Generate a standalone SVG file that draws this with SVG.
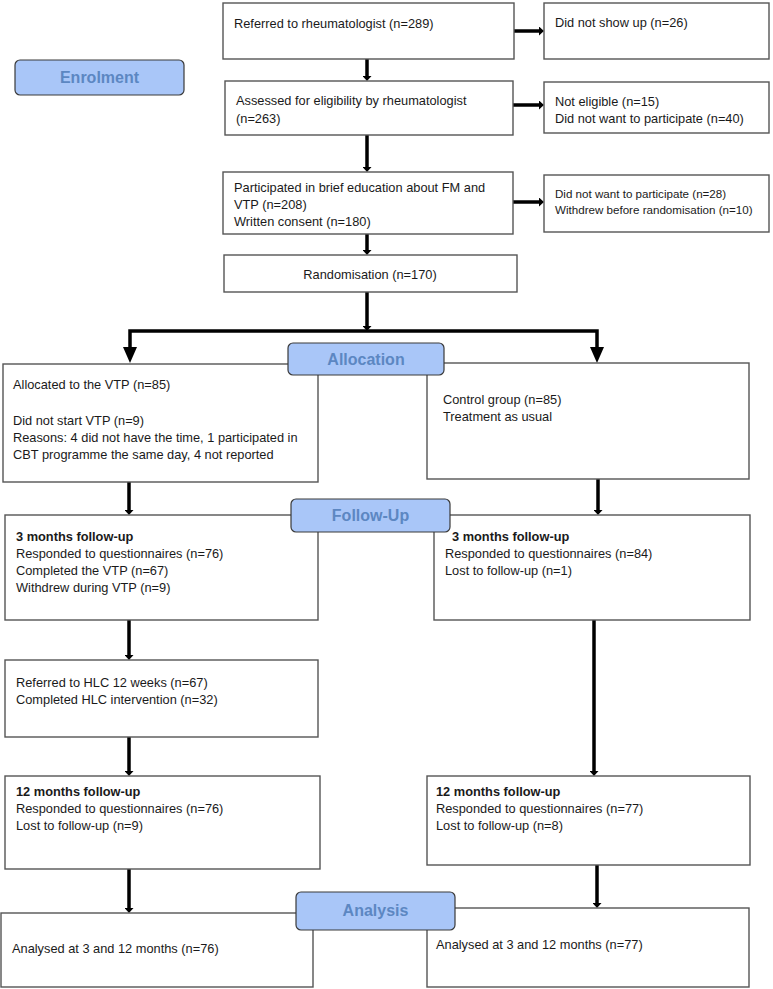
<svg xmlns="http://www.w3.org/2000/svg" width="773" height="989" viewBox="0 0 773 989">
<defs>
<style>
.box{fill:#fff;stroke:#555;stroke-width:1.4}
.pill{fill:#a9c6f8;stroke:#3a3a3a;stroke-width:1.2}
.t{font-family:"Liberation Sans",Arial,sans-serif;font-size:12.8px;fill:#1a1a1a}
.s{font-size:11.6px}
.b{font-weight:bold}
.pt{font-family:"Liberation Sans",Arial,sans-serif;font-size:16px;font-weight:bold;fill:#5c87c2;text-anchor:middle}
.c{fill:none;stroke:#000;stroke-width:3.5}
</style>
<marker id="sm" markerUnits="userSpaceOnUse" markerWidth="6" markerHeight="9" refX="0" refY="4.5" orient="auto">
<path d="M0,0 L5,4.5 L0,9 z" fill="#000"/>
</marker>
<marker id="big" markerUnits="userSpaceOnUse" markerWidth="17" markerHeight="14" refX="0" refY="7" orient="auto">
<path d="M0,0 L16,7 L0,14 z" fill="#000"/>
</marker>
</defs>
<rect width="773" height="989" fill="#fff"/>

<g id="connectors">
<path class="c" d="M367,59 V76" marker-end="url(#sm)"/>
<path class="c" d="M514,31 H539" marker-end="url(#sm)"/>
<path class="c" d="M367,135 V167" marker-end="url(#sm)"/>
<path class="c" d="M513,105 H539" marker-end="url(#sm)"/>
<path class="c" d="M367,234 V250" marker-end="url(#sm)"/>
<path class="c" d="M513,202 H539" marker-end="url(#sm)"/>
<path class="c" d="M367,292 V326" marker-end="url(#sm)"/>
<path class="c" d="M367,331 H130 V347" marker-end="url(#big)"/>
<path class="c" d="M367,331 H597 V347" marker-end="url(#big)"/>
<path class="c" d="M129,482 V510" marker-end="url(#sm)"/>
<path class="c" d="M598,479 V510" marker-end="url(#sm)"/>
<path class="c" d="M129,620 V655" marker-end="url(#sm)"/>
<path class="c" d="M129,737 V771" marker-end="url(#sm)"/>
<path class="c" d="M594,620 V771" marker-end="url(#sm)"/>
<path class="c" d="M129,869 V908" marker-end="url(#sm)"/>
<path class="c" d="M597,865 V903" marker-end="url(#sm)"/>
</g>

<g id="referred">
<rect class="box" x="223" y="3" width="291" height="56"/>
<text class="t" x="234" y="28">Referred to rheumatologist (n=289)</text>
</g>
<g id="noshow">
<rect class="box" x="544" y="3" width="225" height="56"/>
<text class="t" x="555" y="27">Did not show up (n=26)</text>
</g>
<g id="assessed">
<rect class="box" x="225" y="81" width="288" height="54"/>
<text class="t" x="236" y="105">Assessed for eligibility by rheumatologist</text>
<text class="t" x="236" y="123">(n=263)</text>
</g>
<g id="noteligible">
<rect class="box" x="544" y="82" width="225" height="51"/>
<text class="t" x="555" y="106">Not eligible (n=15)</text>
<text class="t" x="555" y="123">Did not want to participate (n=40)</text>
</g>
<g id="participated">
<rect class="box" x="223" y="172" width="290" height="62"/>
<text class="t" x="234" y="192">Participated in brief education about FM and</text>
<text class="t" x="234" y="209">VTP (n=208)</text>
<text class="t" x="234" y="226">Written consent (n=180)</text>
</g>
<g id="didnotwant">
<rect class="box" x="544" y="175" width="225" height="57"/>
<text class="t s" x="555" y="198">Did not want to participate (n=28)</text>
<text class="t s" x="555" y="214">Withdrew before randomisation (n=10)</text>
</g>
<g id="randomisation">
<rect class="box" x="224" y="255" width="293" height="37"/>
<text class="t" x="370" y="279" text-anchor="middle">Randomisation (n=170)</text>
</g>

<g id="allocated">
<rect class="box" x="3" y="364" width="315" height="118"/>
<text class="t" x="13" y="389">Allocated to the VTP (n=85)</text>
<text class="t" x="13" y="425">Did not start VTP (n=9)</text>
<text class="t" x="13" y="442">Reasons: 4 did not have the time, 1 participated in</text>
<text class="t" x="13" y="459">CBT programme the same day, 4 not reported</text>
</g>
<g id="control">
<rect class="box" x="427" y="363" width="322" height="116"/>
<text class="t" x="443" y="404">Control group (n=85)</text>
<text class="t" x="443" y="421">Treatment as usual</text>
</g>
<g id="fu3left">
<rect class="box" x="5" y="515" width="313" height="105"/>
<text class="t b" x="16" y="541">3 months follow-up</text>
<text class="t" x="16" y="558">Responded to questionnaires (n=76)</text>
<text class="t" x="16" y="575">Completed the VTP (n=67)</text>
<text class="t" x="16" y="592">Withdrew during VTP (n=9)</text>
</g>
<g id="fu3right">
<rect class="box" x="434" y="515" width="316" height="105"/>
<text class="t b" x="452" y="541">3 months follow-up</text>
<text class="t" x="445" y="558">Responded to questionnaires (n=84)</text>
<text class="t" x="445" y="575">Lost to follow-up (n=1)</text>
</g>
<g id="hlc">
<rect class="box" x="5" y="660" width="313" height="77"/>
<text class="t" x="16" y="687">Referred to HLC 12 weeks (n=67)</text>
<text class="t" x="16" y="704">Completed HLC intervention (n=32)</text>
</g>
<g id="fu12left">
<rect class="box" x="5" y="776" width="315" height="93"/>
<text class="t b" x="16" y="796">12 months follow-up</text>
<text class="t" x="16" y="813">Responded to questionnaires (n=76)</text>
<text class="t" x="16" y="830">Lost to follow-up (n=9)</text>
</g>
<g id="fu12right">
<rect class="box" x="427" y="776" width="323" height="89"/>
<text class="t b" x="436" y="796">12 months follow-up</text>
<text class="t" x="436" y="813">Responded to questionnaires (n=77)</text>
<text class="t" x="436" y="830">Lost to follow-up (n=8)</text>
</g>
<g id="analysedleft">
<rect class="box" x="1" y="913" width="312" height="74"/>
<text class="t" x="12" y="953">Analysed at 3 and 12 months (n=76)</text>
</g>
<g id="analysedright">
<rect class="box" x="427" y="908" width="322" height="79"/>
<text class="t" x="436" y="949">Analysed at 3 and 12 months (n=77)</text>
</g>

<g id="enrolment">
<rect class="pill" x="15" y="60" width="169" height="35" rx="5"/>
<text class="pt" x="99.5" y="83">Enrolment</text>
</g>
<g id="allocation">
<rect class="pill" x="288" y="343" width="156" height="32" rx="5"/>
<text class="pt" x="366" y="365">Allocation</text>
</g>
<g id="followup">
<rect class="pill" x="291" y="499" width="159" height="33" rx="5"/>
<text class="pt" x="370.5" y="521">Follow-Up</text>
</g>
<g id="analysis">
<rect class="pill" x="296" y="892" width="159" height="38" rx="5"/>
<text class="pt" x="375.5" y="916">Analysis</text>
</g>
</svg>
